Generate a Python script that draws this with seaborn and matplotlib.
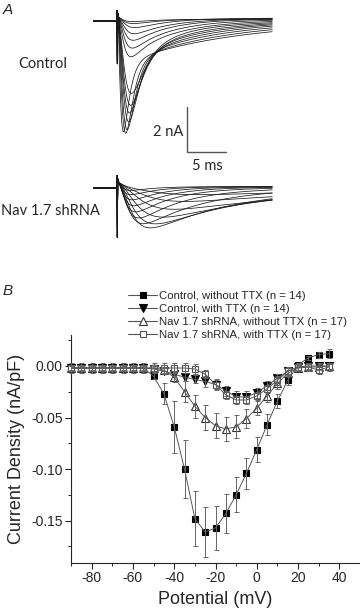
import numpy as np
import pandas as pd
import matplotlib
matplotlib.use('Agg')
import matplotlib.pyplot as plt
from matplotlib.lines import Line2D
from matplotlib.ticker import AutoMinorLocator
import seaborn as sns

sns.set_style('ticks')
plt.rcParams['font.family'] = ['Liberation Sans', 'DejaVu Sans']
plt.rcParams['axes.unicode_minus'] = False

# ---------------- Panel B: I-V data (nA/pF) ----------------
voltage = [-90, -85, -80, -75, -70, -65, -60, -55, -50, -45, -40, -35, -30,
           -25, -20, -15, -10, -5, 0, 5, 10, 15, 20, 25, 30, 35]

ctrl_no_ttx = [-0.002, -0.002, -0.002, -0.002, -0.002, -0.002, -0.002, -0.002, -0.010,
               -0.027, -0.059, -0.100, -0.148, -0.161, -0.157, -0.143, -0.125, -0.104,
               -0.081, -0.057, -0.034, -0.014, 0.001, 0.008, 0.011, 0.012]
ctrl_no_ttx_sem = [0.002, 0.002, 0.002, 0.002, 0.002, 0.002, 0.002, 0.002, 0.003,
                   0.010, 0.025, 0.028, 0.027, 0.024, 0.021, 0.019, 0.017, 0.015,
                   0.012, 0.010, 0.007, 0.004, 0.002, 0.002, 0.003, 0.004]

ctrl_ttx = [-0.002, -0.002, -0.002, -0.002, -0.002, -0.002, -0.002, -0.002, -0.003,
            -0.005, -0.008, -0.011, -0.013, -0.015, -0.018, -0.024, -0.030, -0.030,
            -0.026, -0.019, -0.012, -0.005, -0.001, 0.000, 0.000, 0.000]
ctrl_ttx_sem = [0.003, 0.003, 0.003, 0.003, 0.003, 0.003, 0.003, 0.003, 0.003,
                0.003, 0.003, 0.004, 0.004, 0.005, 0.005, 0.005, 0.006, 0.006,
                0.005, 0.004, 0.004, 0.003, 0.003, 0.003, 0.003, 0.003]

nav_no_ttx = [-0.002, -0.002, -0.002, -0.002, -0.002, -0.002, -0.002, -0.002, -0.002,
              -0.004, -0.011, -0.025, -0.039, -0.050, -0.058, -0.061, -0.059, -0.051,
              -0.041, -0.029, -0.017, -0.007, -0.002, -0.001, -0.001, 0.000]
nav_no_ttx_sem = [0.003, 0.003, 0.003, 0.003, 0.003, 0.003, 0.003, 0.003, 0.003,
                  0.003, 0.005, 0.010, 0.011, 0.012, 0.012, 0.012, 0.011, 0.009,
                  0.007, 0.006, 0.005, 0.003, 0.003, 0.003, 0.003, 0.003]

nav_ttx = [-0.002, -0.002, -0.002, -0.002, -0.002, -0.002, -0.002, -0.002, -0.002,
           -0.002, -0.002, -0.002, -0.003, -0.008, -0.018, -0.028, -0.033, -0.033,
           -0.029, -0.022, -0.014, -0.005, -0.001, -0.001, -0.004, -0.001]
nav_ttx_sem = [0.005, 0.005, 0.005, 0.005, 0.005, 0.005, 0.005, 0.005, 0.005,
               0.005, 0.005, 0.005, 0.005, 0.004, 0.004, 0.004, 0.004, 0.004,
               0.004, 0.004, 0.004, 0.004, 0.004, 0.004, 0.004, 0.004]

labels = ['Control, without TTX (n = 14)', 'Control, with TTX (n = 14)',
          'Nav 1.7 shRNA, without TTX (n = 17)', 'Nav 1.7 shRNA, with TTX (n = 17)']

# ---------------- Panel A: current families (nA, ms) ----------------
# control: fast (TTX-S) + slow (TTX-R) parts of each trace
ctrl_fast_amp = [4.2, 3.9, 3.6, 3.1, 2.7, 2.3, 1.8, 0.4, 0.2, 0.1, 0.05, 0.0, 0.0, 0.0]
ctrl_fast_tm = [0.40, 0.60, 0.75, 0.90, 0.95, 1.05, 1.10, 0.8, 0.9, 1.0, 1.0, 1.0, 1.0, 1.0]
ctrl_fast_th = [0.70, 0.85, 0.95, 1.10, 1.20, 1.35, 1.50, 1.2, 1.3, 1.4, 1.5, 1.5, 1.5, 1.5]
ctrl_slow_amp = [1.60, 1.60, 1.55, 1.55, 1.50, 1.50, 1.45, 1.3, 1.1, 0.85, 0.62, 0.4, 0.2, 0.1]
ctrl_slow_tm = [0.55, 0.55, 0.55, 0.55, 0.55, 0.55, 0.55, 0.6, 0.65, 0.7, 0.75, 0.8, 0.7, 0.6]
ctrl_slow_th = [14, 12, 10.5, 9, 8, 7, 6, 6, 5.5, 5, 5, 4.5, 4, 3.5]
ctrl_steady = [0, 0, 0, 0, 0, 0, 0, 0.05, 0.08, 0.1, 0.12, 0.13, 0.1, 0.08]
ctrl_artifact = [0.45, -1.9, 0.35, 0.2]
ctrl_bump = 0.2

# Nav1.7 shRNA: mostly slow (TTX-R) current
shrna_amp = [0.30, 0.60, 0.95, 1.30, 1.60, 1.78, 1.60, 1.35, 1.10, 0.85, 0.60, 0.38, 0.20]
shrna_tm = [3.5, 2.8, 2.3, 1.9, 1.55, 1.3, 1.05, 0.9, 0.78, 0.68, 0.6, 0.52, 0.45]
shrna_th = [22, 20, 18, 14, 12, 11, 8, 6, 5, 4.5, 4, 3.5, 3]
shrna_steady = [0, 0, 0, 0, 0, 0, 0, 0, 0.02, 0.04, 0.05, 0.06, 0.06]
shrna_artifact = [0.55, -2.2, 0.4, 0.3]
shrna_bump = 0.32

artifact_t = [0.0, 0.04, 0.10, 0.18]
t_model = np.linspace(0.25, 19.9, 800)


def gate(t, tm, th):
    g = (1 - np.exp(-t / tm)) ** 3 * np.exp(-t / th)
    return g / g.max()


def build_trace(parts, steady, artifact, bump, offset):
    cur = bump * np.exp(-t_model / 0.9) + steady * (1 - np.exp(-t_model / 2.0))
    for amp, tm, th in parts:
        cur = cur - amp * gate(t_model, tm, th)
    t = np.concatenate([[-3.08, -0.01], artifact_t, t_model])
    i = np.concatenate([[0, 0], artifact, cur]) + offset
    return t, i


rows = []
shrna_offset = -7.42
for k in range(len(ctrl_fast_amp)):
    t, i = build_trace([(ctrl_fast_amp[k], ctrl_fast_tm[k], ctrl_fast_th[k]),
                        (ctrl_slow_amp[k], ctrl_slow_tm[k], ctrl_slow_th[k])],
                       ctrl_steady[k], ctrl_artifact, ctrl_bump, 0.0)
    rows.append(pd.DataFrame({'t': t, 'I': i, 'trace': f'c{k}'}))
for k in range(len(shrna_amp)):
    t, i = build_trace([(shrna_amp[k], shrna_tm[k], shrna_th[k])],
                       shrna_steady[k], shrna_artifact, shrna_bump, shrna_offset)
    rows.append(pd.DataFrame({'t': t, 'I': i, 'trace': f's{k}'}))
traces = pd.concat(rows, ignore_index=True)

W, H = 360, 610
fig = plt.figure(figsize=(W / 100, H / 100), dpi=100)

# ---- panel A ----
axA = fig.add_axes([93 / W, 1 - 250 / H, 187 / W, 245 / H])
sns.lineplot(data=traces, x='t', y='I', units='trace', estimator=None, sort=False,
             color='#1a1a1a', lw=0.55, ax=axA, legend=False)
axA.set_xlim(-3.08, 20.9)
axA.set_ylim(-10.18, 0.71)
axA.axis('off')
# scale bar: 5 ms, 2 nA
axA.plot([8.97, 8.97, 13.97], [-3.82, -5.82, -5.82], color='#555555', lw=1.0,
         solid_joinstyle='miter')
lato = ['Lato', 'DejaVu Sans']
axA.text(8.45, -4.95, '2 nA', ha='right', va='center', fontsize=10.5, family=lato)
axA.text(11.6, -6.45, '5 ms', ha='center', va='center', fontsize=10.5, family=lato)

fig.text(18 / W, 1 - 64 / H, 'Control', ha='left', va='center', fontsize=10.5, family=lato)
fig.text(1 / W, 1 - 211 / H, 'Nav 1.7 shRNA', ha='left', va='center', fontsize=10.5,
         family=lato)
fig.text(3 / W, 1 - 10 / H, 'A', ha='left', va='center', fontsize=11, style='italic')
fig.text(3 / W, 1 - 291 / H, 'B', ha='left', va='center', fontsize=11, style='italic')

# ---- panel B ----
axB = fig.add_axes([71 / W, 1 - 563 / H, 289 / W, 228 / H])
line_col = '#555555'
series = [
    (ctrl_no_ttx, ctrl_no_ttx_sem, 's', 'black', 'black', 5, 2),
    (ctrl_ttx, ctrl_ttx_sem, 'v', 'black', 'black', 5.5, 2.2),
    (nav_no_ttx, nav_no_ttx_sem, '^', 'white', '#333333', 5.5, 2.4),
    (nav_ttx, nav_ttx_sem, 's', 'white', '#555555', 5, 2.6),
]
handles = []
for (vals, sem, mk, fc, ec, ms, z), lab in zip(series, labels):
    # symbols first, connecting lines and error bars drawn over them
    sns.lineplot(x=voltage, y=vals, ax=axB, linestyle='', marker=mk, markersize=ms,
                 markerfacecolor=fc, markeredgecolor=ec, markeredgewidth=0.8,
                 zorder=z, clip_on=False)
    handles.append(Line2D([], [], color=line_col, lw=0.8, marker=mk, markersize=ms,
                          markerfacecolor=fc, markeredgecolor=ec, markeredgewidth=0.8))
for (vals, sem, mk, fc, ec, ms, z), lab in zip(series, labels):
    sns.lineplot(x=voltage, y=vals, ax=axB, color=line_col, lw=0.7, zorder=3)
    axB.errorbar(voltage, vals, yerr=sem, fmt='none', ecolor='#666666', elinewidth=0.7,
                 capsize=1.8, capthick=0.7, zorder=3, clip_on=False)

axB.set_xlim(-90, 50)
axB.set_ylim(-0.191, 0.030)
axB.set_xticks([-80, -60, -40, -20, 0, 20, 40])
axB.set_yticks([-0.15, -0.10, -0.05, 0.00])
axB.set_yticklabels(['-0.15', '-0.10', '-0.05', '0.00'])
axB.xaxis.set_minor_locator(AutoMinorLocator(2))
axB.yaxis.set_minor_locator(AutoMinorLocator(2))
axB.tick_params(which='major', direction='out', length=4, width=0.8, labelsize=10, pad=2)
axB.tick_params(which='minor', direction='out', length=2.5, width=0.7)
sns.despine(ax=axB)
for s in ['left', 'bottom']:
    axB.spines[s].set_linewidth(0.8)
axB.set_xlabel('Potential (mV)', fontsize=13, labelpad=4)
axB.set_ylabel('Current Density (nA/pF)', fontsize=13, labelpad=4)

axB.legend(handles, labels, loc='upper left',
           bbox_to_anchor=(128 / W, 1 - 291 / H), bbox_transform=fig.transFigure,
           frameon=False, fontsize=8.2, handlelength=2.55, handletextpad=0.15,
           labelspacing=0.26, borderpad=0, borderaxespad=0)

fig.savefig('out.png', dpi=100)
